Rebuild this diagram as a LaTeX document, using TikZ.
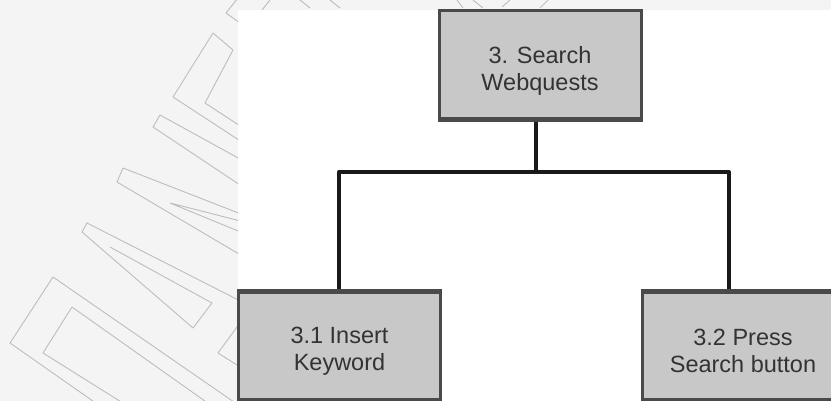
\documentclass[tikz,border=0pt]{standalone}
\usepackage{fontspec}
\setmainfont{Liberation Sans}
\definecolor{boxfill}{HTML}{C8C8C8}
\definecolor{boxedge}{HTML}{4A4A4A}
\definecolor{txt}{HTML}{333333}
\definecolor{mark}{HTML}{BDBDBD}
\definecolor{paper}{HTML}{F4F4F4}
\tikzset{
  task/.style={draw=boxedge, line width=3pt, fill=boxfill, rectangle,
    minimum width=202pt, minimum height=107pt, inner sep=0pt},
  tasktext/.style={inner sep=0pt, align=center, text=txt,
    font=\fontsize{23.5}{27}\selectfont},
  link/.style={draw=black!90, line width=4pt, line join=round},
  stamp/.style={draw=mark, line width=0.9pt, line join=round}
}
\begin{document}
\begin{tikzpicture}[x=1pt, y=-1pt]
\useasboundingbox (0,0) rectangle (831,401);

% page behind the chart, with the faint stamp outlines
\fill[paper] (0,0) rectangle (831,401);
\fill[white] (238,10) rectangle (831,401);
\begin{scope}
  \clip (0,0) -- (831,0) -- (831,10) -- (238,10) -- (238,401) -- (0,401) -- cycle;
  \draw[stamp] (213,33) -- (173,97) -- (300,180) (205,103) -- (233,50) -- (213,33);
  \draw[stamp] (205,103) -- (300,165);
  \draw[stamp] (300,192) -- (160,115) -- (153,127) -- (300,225);
  \draw[stamp] (300,237) -- (123,168) -- (117,182) -- (300,290);
  \draw[stamp] (170,203) -- (260,240) (170,203) -- (260,226);
  \draw[stamp] (260,311) -- (87,223) -- (82,232) -- (193,328) -- (212,303) -- (110,247);
  \draw[stamp] (260,420) -- (53,277) -- (10,343) -- (120,420);
  \draw[stamp] (260,440) -- (72,307) -- (43,353) -- (150,420);
  \draw[stamp] (245,316) -- (218,353) -- (245,370);
  \draw[stamp] (238,-2) -- (226,13) -- (240,23);
  \draw[stamp] (262,10) -- (270,0) (300,0) -- (310,8) (330,0) -- (340,8);
  \draw[stamp] (457,0) -- (463,8) (473,0) -- (483,8) (502,7) -- (510,0) (540,8) -- (548,0);
\end{scope}

% junction points of the tree
\coordinate (jn) at (536,172);
\coordinate (jl) at (339,172);
\coordinate (jr) at (729,172);

% task boxes
\node[task, minimum height=108pt] (top) at (540,65) {};
\node[task] (left) at (339.5,345.5) {};
\node[task] (right) at (743,345.5) {};

% connectors
\draw[link] (top.south -| jn) -- (jn);
\draw[link] (left.north -| jl) -- (jl) -- (jr) -- (right.north -| jr);

% redraw box edges so the connector ends sit under the borders
\draw[boxedge, line width=3pt] (top.south west) -- (top.south east);
\draw[boxedge, line width=3pt] (left.north west) -- (left.north east);
\draw[boxedge, line width=3pt] (right.north west) -- (right.north east);

% box captions, set a little below each box centre
\node[tasktext] (toptext) at ([yshift=-5.5pt]top.center) {3. Search\\Webquests};
\node[tasktext] (lefttext) at ([yshift=-6pt]left.center) {3.1 Insert\\Keyword};
\node[tasktext] (righttext) at ([yshift=-5pt]right.center) {3.2 Press\\Search button};
\end{tikzpicture}
\end{document}
